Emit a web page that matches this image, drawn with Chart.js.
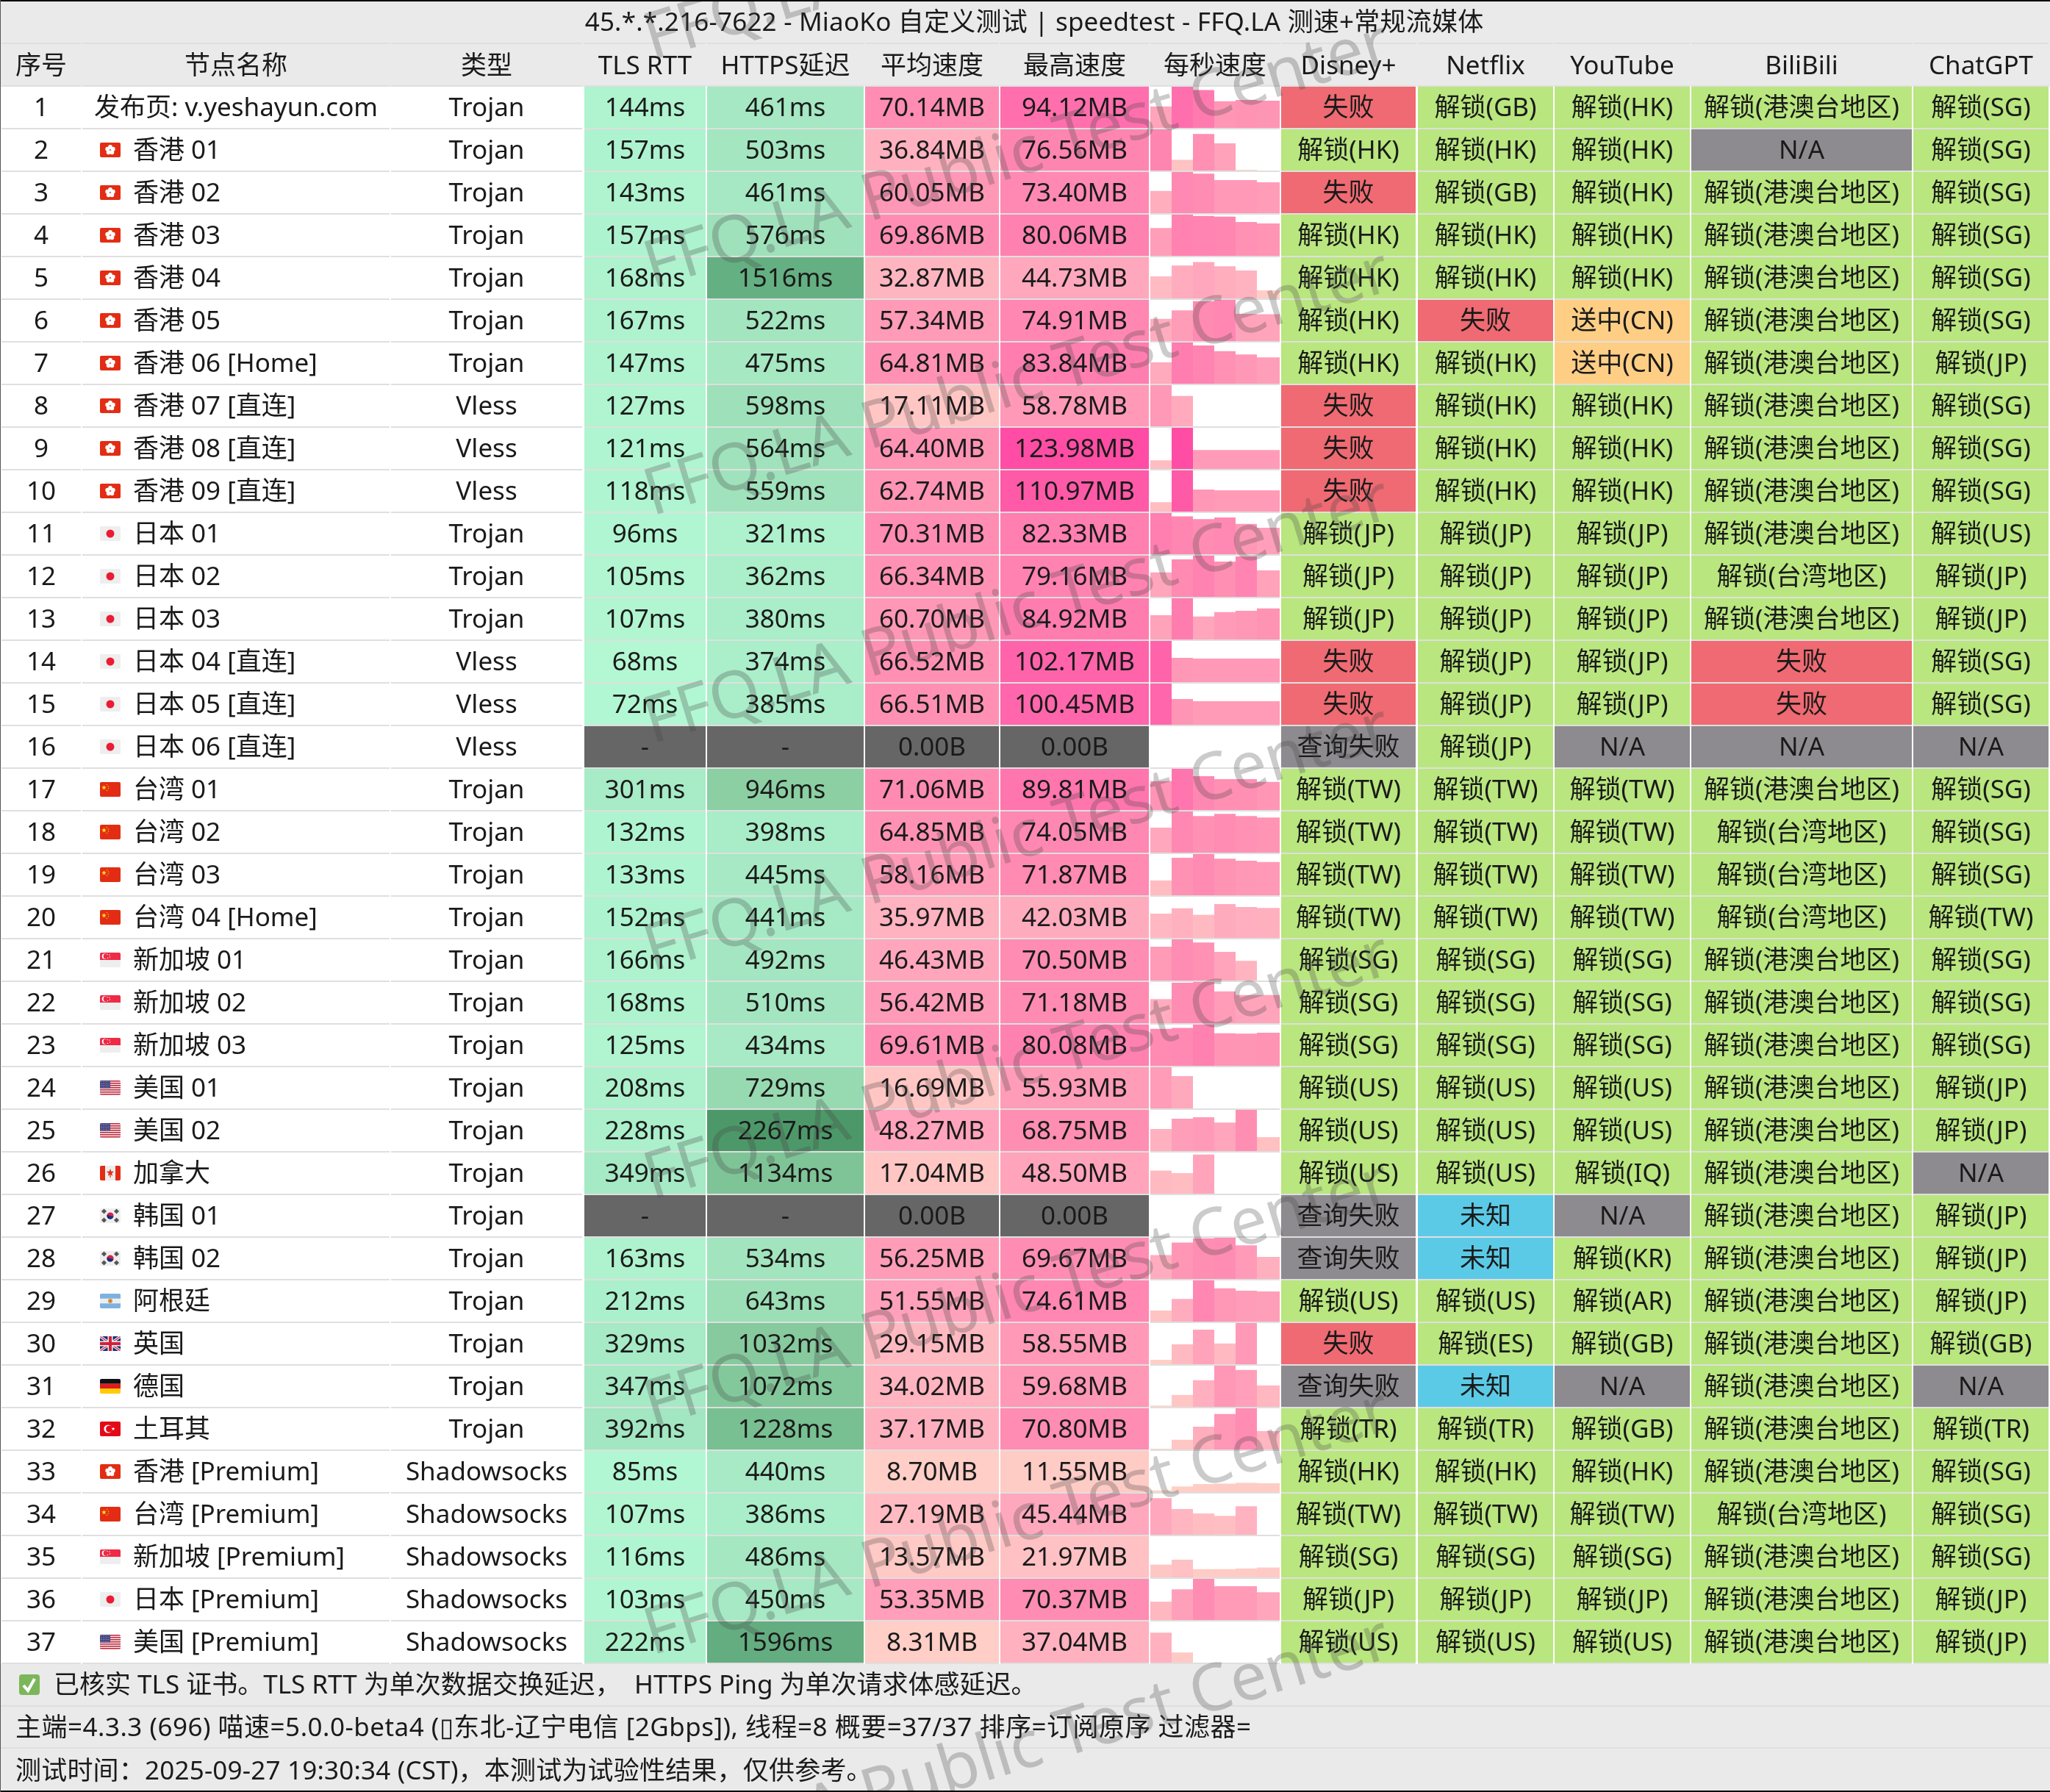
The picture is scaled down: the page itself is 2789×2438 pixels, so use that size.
<!DOCTYPE html>
<html>
<head>
<meta charset="utf-8">
<style>
html, body { margin: 0; padding: 0; background: #fff; }
canvas { display: block; }
</style>
<script src="https://cdn.jsdelivr.net/npm/chart.js@4"></script>
</head>
<body>
<canvas id="mychart" width="2789" height="2438"></canvas>
<script>
const title = '45.*.*.216-7622 - MiaoKo 自定义测试 | speedtest - FFQ.LA 测速+常规流媒体';
const headers = ['序号', '节点名称', '类型', 'TLS RTT', 'HTTPS延迟', '平均速度', '最高速度', '每秒速度', 'Disney+', 'Netflix', 'YouTube', 'BiliBili', 'ChatGPT'];
const footer = [
  '已核实 TLS 证书。TLS RTT 为单次数据交换延迟，  HTTPS Ping 为单次请求体感延迟。',
  '主端=4.3.3 (696) 喵速=5.0.0-beta4 (▯东北-辽宁电信 [2Gbps]), 线程=8 概要=37/37 排序=订阅原序 过滤器=',
  '测试时间：2025-09-27 19:30:34 (CST)，本测试为试验性结果，仅供参考。'
];
const watermark = 'FFQ.LA Public Test Center';

const names = ['发布页: v.yeshayun.com', '香港 01', '香港 02', '香港 03', '香港 04', '香港 05', '香港 06 [Home]', '香港 07 [直连]', '香港 08 [直连]', '香港 09 [直连]',
  '日本 01', '日本 02', '日本 03', '日本 04 [直连]', '日本 05 [直连]', '日本 06 [直连]', '台湾 01', '台湾 02', '台湾 03', '台湾 04 [Home]',
  '新加坡 01', '新加坡 02', '新加坡 03', '美国 01', '美国 02', '加拿大', '韩国 01', '韩国 02', '阿根廷', '英国', '德国', '土耳其',
  '香港 [Premium]', '台湾 [Premium]', '新加坡 [Premium]', '日本 [Premium]', '美国 [Premium]'];
const flags = ['', 'hk', 'hk', 'hk', 'hk', 'hk', 'hk', 'hk', 'hk', 'hk', 'jp', 'jp', 'jp', 'jp', 'jp', 'jp', 'cn', 'cn', 'cn', 'cn',
  'sg', 'sg', 'sg', 'us', 'us', 'ca', 'kr', 'kr', 'ar', 'gb', 'de', 'tr', 'hk', 'cn', 'sg', 'jp', 'us'];
const types = ['Trojan', 'Trojan', 'Trojan', 'Trojan', 'Trojan', 'Trojan', 'Trojan', 'Vless', 'Vless', 'Vless',
  'Trojan', 'Trojan', 'Trojan', 'Vless', 'Vless', 'Vless', 'Trojan', 'Trojan', 'Trojan', 'Trojan',
  'Trojan', 'Trojan', 'Trojan', 'Trojan', 'Trojan', 'Trojan', 'Trojan', 'Trojan', 'Trojan', 'Trojan', 'Trojan', 'Trojan',
  'Shadowsocks', 'Shadowsocks', 'Shadowsocks', 'Shadowsocks', 'Shadowsocks'];

// ms, null = no result
const tlsRtt = [144, 157, 143, 157, 168, 167, 147, 127, 121, 118, 96, 105, 107, 68, 72, null, 301, 132, 133, 152, 166, 168, 125, 208, 228, 349, null, 163, 212, 329, 347, 392, 85, 107, 116, 103, 222];
const httpsPing = [461, 503, 461, 576, 1516, 522, 475, 598, 564, 559, 321, 362, 380, 374, 385, null, 946, 398, 445, 441, 492, 510, 434, 729, 2267, 1134, null, 534, 643, 1032, 1072, 1228, 440, 386, 486, 450, 1596];
// MB
const avgSpeed = [70.14, 36.84, 60.05, 69.86, 32.87, 57.34, 64.81, 17.11, 64.40, 62.74, 70.31, 66.34, 60.70, 66.52, 66.51, 0, 71.06, 64.85, 58.16, 35.97, 46.43, 56.42, 69.61, 16.69, 48.27, 17.04, 0, 56.25, 51.55, 29.15, 34.02, 37.17, 8.70, 27.19, 13.57, 53.35, 8.31];
const maxSpeed = [94.12, 76.56, 73.40, 80.06, 44.73, 74.91, 83.84, 58.78, 123.98, 110.97, 82.33, 79.16, 84.92, 102.17, 100.45, 0, 89.81, 74.05, 71.87, 42.03, 70.50, 71.18, 80.08, 55.93, 68.75, 48.50, 0, 69.67, 74.61, 58.55, 59.68, 70.80, 11.55, 45.44, 21.97, 70.37, 37.04];
// MB per second, six samples per node
const perSecond = [
  [49, 94.1, 86.5, 61, 64, 62], [76.6, 20, 68, 50.7, 1.5, 0], [39.6, 73.4, 70.6, 59, 59, 55], [54, 80, 77.5, 76, 65.7, 63],
  [27.3, 40.7, 45, 39.8, 34.5, 10], [40.4, 56, 72.7, 74.9, 49.4, 48.7], [43.6, 83.8, 78, 66.2, 59.5, 53.7], [58.8, 43.3, 0, 0, 0, 0],
  [26, 124, 57, 57, 57, 57], [25.4, 111, 59.4, 57.3, 57.3, 57.3], [82.3, 75.6, 70.3, 73.4, 60.8, 53], [47, 72, 79.2, 68, 77.6, 50.9],
  [50, 84.9, 47.4, 56.6, 59.3, 64.2], [102.2, 60.3, 58.3, 58.3, 58.3, 58.3], [100.5, 62.7, 57.6, 57.6, 57.6, 57.6], [0, 0, 0, 0, 0, 0],
  [63, 89.8, 73.8, 67.5, 67.5, 61.2], [44.8, 74, 65.9, 69.8, 65.9, 63.2], [25.9, 65.4, 71.9, 64, 60.4, 58.2], [30.1, 36.7, 28.6, 41.8, 38.2, 37.2],
  [57.9, 70.5, 65, 49, 33.7, 0], [41.7, 70, 71.2, 54.9, 48.5, 48.5], [72, 73.5, 80.1, 63.3, 62.7, 64.3], [55.9, 44, 0, 0, 0, 0],
  [36.8, 53.9, 56.5, 47.7, 68.8, 23.2], [28.6, 25.5, 48.5, 0, 0, 0], [0, 0, 0, 0, 0, 0], [40.4, 61.6, 68.7, 69.7, 57, 37.3],
  [20, 41, 74.6, 60.3, 56, 54.5], [6.3, 28.3, 49.2, 29.5, 58.6, 0], [1.9, 17.2, 38.6, 59.7, 53.6, 31], [1.4, 16.7, 39.2, 60.9, 70.8, 31.6],
  [2.2, 7, 10, 10.5, 11.5, 11], [45.4, 31.8, 26.3, 23.4, 35.4, 0], [15.8, 21.9, 10.2, 10.2, 11, 12.2], [31.3, 52.4, 70.4, 57.8, 57.8, 47.5], [37, 12.6, 0, 0, 0, 0]
];

const disney = ['失败', 'HK', '失败', 'HK', 'HK', 'HK', 'HK', '失败', '失败', '失败', 'JP', 'JP', 'JP', '失败', '失败', '查询失败', 'TW', 'TW', 'TW', 'TW',
  'SG', 'SG', 'SG', 'US', 'US', 'US', '查询失败', '查询失败', 'US', '失败', '查询失败', 'TR', 'HK', 'TW', 'SG', 'JP', 'US'];
const netflix = ['GB', 'HK', 'GB', 'HK', 'HK', '失败', 'HK', 'HK', 'HK', 'HK', 'JP', 'JP', 'JP', 'JP', 'JP', 'JP', 'TW', 'TW', 'TW', 'TW',
  'SG', 'SG', 'SG', 'US', 'US', 'US', '未知', '未知', 'US', 'ES', '未知', 'TR', 'HK', 'TW', 'SG', 'JP', 'US'];
const youtube = ['HK', 'HK', 'HK', 'HK', 'HK', '送中(CN)', '送中(CN)', 'HK', 'HK', 'HK', 'JP', 'JP', 'JP', 'JP', 'JP', 'N/A', 'TW', 'TW', 'TW', 'TW',
  'SG', 'SG', 'SG', 'US', 'US', 'IQ', 'N/A', 'KR', 'AR', 'GB', 'N/A', 'GB', 'HK', 'TW', 'SG', 'JP', 'US'];
const bilibili = ['港澳台地区', 'N/A', '港澳台地区', '港澳台地区', '港澳台地区', '港澳台地区', '港澳台地区', '港澳台地区', '港澳台地区', '港澳台地区',
  '港澳台地区', '台湾地区', '港澳台地区', '失败', '失败', 'N/A', '港澳台地区', '台湾地区', '台湾地区', '台湾地区',
  '港澳台地区', '港澳台地区', '港澳台地区', '港澳台地区', '港澳台地区', '港澳台地区', '港澳台地区', '港澳台地区', '港澳台地区', '港澳台地区', '港澳台地区', '港澳台地区',
  '港澳台地区', '台湾地区', '港澳台地区', '港澳台地区', '港澳台地区'];
const chatgpt = ['SG', 'SG', 'SG', 'SG', 'SG', 'SG', 'JP', 'SG', 'SG', 'SG', 'US', 'JP', 'JP', 'SG', 'SG', 'N/A', 'SG', 'SG', 'SG', 'TW',
  'SG', 'SG', 'SG', 'JP', 'JP', 'N/A', 'JP', 'JP', 'JP', 'GB', 'N/A', 'TR', 'SG', 'SG', 'SG', 'JP', 'JP'];

// layout: page pixels
const ROW_TOP = 118, ROW_H = 58, CELL = 56 / 58;
const TEXT_DROP = 2;
const FONT = '"Noto Sans", "Noto Sans CJK SC", sans-serif';
const columns = [[2, 110], [112, 530], [532, 792], [795, 960], [962, 1175], [1177, 1359], [1361, 1563], [1565, 1741], [1743, 1926], [1929, 2113], [2115, 2299], [2301, 2601], [2603, 2787]];
const SPEED_SCALE_MIN = 51;

const rttStops = [[0, [182, 251, 215]], [400, [162, 230, 194]]];
const pingStops = [[300, [174, 242, 207]], [600, [158, 224, 185]], [1000, [136, 204, 159]], [1500, [102, 176, 131]], [2300, [76, 151, 104]]];
const speedStops = [[0, [255, 214, 200]], [20, [255, 195, 195]], [45, [255, 168, 189]], [65, [255, 146, 180]], [85, [255, 124, 175]], [105, [255, 96, 170]], [124, [255, 77, 165]]];
const failColor = '#666666';

function ramp(stops, v) {
  if (v <= stops[0][0]) return 'rgb(' + stops[0][1].join(',') + ')';
  for (let i = 1; i < stops.length; i++) {
    if (v <= stops[i][0]) {
      const t = (v - stops[i - 1][0]) / (stops[i][0] - stops[i - 1][0]);
      const c = stops[i][1].map((n, k) => Math.round(stops[i - 1][1][k] + (n - stops[i - 1][1][k]) * t));
      return 'rgb(' + c.join(',') + ')';
    }
  }
  return 'rgb(' + stops[stops.length - 1][1].join(',') + ')';
}

function statusColor(s) {
  if (s === '失败') return '#EF6A72';
  if (s === 'N/A' || s === '查询失败') return '#8D8B8F';
  if (s === '未知') return '#5BCAE6';
  if (s.startsWith('送中')) return '#FFCE85';
  return '#B9E67E';
}
const unlockLabel = v => /^[A-Z]{2}$/.test(v) ? '解锁(' + v + ')' : v;
const biliLabel = v => v.endsWith('地区') ? '解锁(' + v + ')' : v;
const speedLabel = v => v === 0 ? '0.00B' : v.toFixed(2) + 'MB';
const msLabel = v => v === null ? '-' : v + 'ms';

// one entry per table column: text and fill of each row
const tableCols = [
  { text: names.map((n, i) => String(i + 1)) },
  { text: names, left: true },
  { text: types },
  { text: tlsRtt.map(msLabel), fill: tlsRtt.map(v => v === null ? failColor : ramp(rttStops, v)) },
  { text: httpsPing.map(msLabel), fill: httpsPing.map(v => v === null ? failColor : ramp(pingStops, v)) },
  { text: avgSpeed.map(speedLabel), fill: avgSpeed.map(v => v === 0 ? failColor : ramp(speedStops, v)) },
  { text: maxSpeed.map(speedLabel), fill: maxSpeed.map(v => v === 0 ? failColor : ramp(speedStops, v)) },
  { text: null },
  { text: disney.map(unlockLabel), fill: disney.map(unlockLabel).map(statusColor) },
  { text: netflix.map(unlockLabel), fill: netflix.map(unlockLabel).map(statusColor) },
  { text: youtube.map(unlockLabel), fill: youtube.map(unlockLabel).map(statusColor) },
  { text: bilibili.map(biliLabel), fill: bilibili.map(biliLabel).map(statusColor) },
  { text: chatgpt.map(unlockLabel), fill: chatgpt.map(unlockLabel).map(statusColor) }
];

const datasets = [];
tableCols.forEach((col, c) => {
  if (!col.fill) return;
  const [l, r] = columns[c];
  datasets.push({
    data: col.fill.map((color, i) => ({ x: (l + r) / 2, y: [i, i + CELL], color: color })),
    barThickness: r - l
  });
});
// the per second column: one dataset per second, bar height relative to the row's own maximum
const SEC_LEFT = 1565, SEC_W = 29, SEC_LAST_W = 31;
for (let s = 0; s < 6; s++) {
  const w = s === 5 ? SEC_LAST_W : SEC_W;
  const points = [];
  perSecond.forEach((row, i) => {
    if (!row[s]) return;
    const top = Math.max(maxSpeed[i], SPEED_SCALE_MIN);
    points.push({ x: SEC_LEFT + SEC_W * s + w / 2, y: [i + CELL, i + CELL - CELL * row[s] / top], color: ramp(speedStops, row[s]) });
  });
  datasets.push({ data: points, barThickness: w });
}
datasets.forEach(d => {
  d.stack = 'table';
  d.grouped = false;
  d.backgroundColor = c => c.raw.color;
  d.inflateAmount = 0;
  d.borderWidth = 0;
});

function roundRect(ctx, x, y, w, h, r) {
  ctx.beginPath();
  ctx.roundRect(x, y, w, h, r);
}
function star(ctx, cx, cy, r, color) {
  ctx.fillStyle = color;
  ctx.beginPath();
  for (let i = 0; i < 10; i++) {
    const a = -Math.PI / 2 + i * Math.PI / 5, rr = i % 2 ? r * 0.42 : r;
    ctx.lineTo(cx + rr * Math.cos(a), cy + rr * Math.sin(a));
  }
  ctx.closePath();
  ctx.fill();
}
function dot(ctx, x, y, r, color) {
  ctx.fillStyle = color;
  ctx.beginPath();
  ctx.arc(x, y, r, 0, Math.PI * 2);
  ctx.fill();
}

// flags are 28x20, origin at their top left corner
const flagDraw = {
  hk(ctx) {
    ctx.fillStyle = '#E22D14'; ctx.fillRect(0, 0, 28, 20);
    for (let i = 0; i < 5; i++) dot(ctx, 14 + 4 * Math.cos(i * 1.2566 - 1.57), 10 + 4 * Math.sin(i * 1.2566 - 1.57), 2.9, '#fff');
    dot(ctx, 14, 10, 1, '#E8806E');
  },
  jp(ctx) {
    ctx.fillStyle = '#EEEEEE'; ctx.fillRect(0, 0, 28, 20);
    dot(ctx, 14, 10, 5.5, '#EB1B34');
  },
  cn(ctx) {
    ctx.fillStyle = '#E22D14'; ctx.fillRect(0, 0, 28, 20);
    star(ctx, 5.5, 7.5, 3.6, '#FFD91A');
    [[9.5, 3.5], [11.5, 6], [11.5, 9], [9.5, 11.5]].forEach(p => dot(ctx, p[0], p[1], 0.8, '#F5B21A'));
  },
  sg(ctx) {
    ctx.fillStyle = '#EEEEEE'; ctx.fillRect(0, 0, 28, 20);
    ctx.fillStyle = '#EE2A45'; ctx.fillRect(0, 0, 28, 10);
    dot(ctx, 6.5, 5, 3.8, '#fff');
    dot(ctx, 8, 5, 3.4, '#EE2A45');
    [[10, 2.5], [13, 3], [13.5, 6], [10.5, 7.5]].forEach(p => dot(ctx, p[0], p[1], 0.7, '#fff'));
  },
  us(ctx) {
    ctx.fillStyle = '#EEEEEE'; ctx.fillRect(0, 0, 28, 20);
    ctx.fillStyle = '#C5283D';
    for (let i = 0; i < 7; i++) ctx.fillRect(0, i * 3, 28, 1.55);
    ctx.fillStyle = '#3F3F7F'; ctx.fillRect(0, 0, 14, 10.5);
    for (let a = 0; a < 4; a++) for (let b = 0; b < 5; b++) dot(ctx, 1.7 + b * 2.6, 1.5 + a * 2.5, 0.55, '#DDD');
  },
  ca(ctx) {
    ctx.fillStyle = '#EEEEEE'; ctx.fillRect(0, 0, 28, 20);
    ctx.fillStyle = '#E22D14'; ctx.fillRect(0, 0, 7, 20); ctx.fillRect(21, 0, 7, 20);
    star(ctx, 14, 9.5, 5.5, '#E22D14');
    ctx.fillRect(13.4, 12, 1.2, 4);
  },
  kr(ctx) {
    ctx.fillStyle = '#EEEEEE'; ctx.fillRect(0, 0, 28, 20);
    dot(ctx, 14, 10, 4.6, '#D8204A');
    ctx.fillStyle = '#10307A';
    ctx.beginPath(); ctx.arc(14, 10, 4.6, 0.3, Math.PI + 0.3); ctx.fill();
    ctx.fillStyle = '#555';
    [[5.5, 4], [22.5, 4], [5.5, 16], [22.5, 16]].forEach(p => {
      ctx.save(); ctx.translate(p[0], p[1]); ctx.rotate(Math.PI / 4); ctx.fillRect(-2.5, -2.5, 5, 5); ctx.restore();
    });
  },
  ar(ctx) {
    ctx.fillStyle = '#EEEEEE'; ctx.fillRect(0, 0, 28, 20);
    ctx.fillStyle = '#7DB2E0'; ctx.fillRect(0, 0, 28, 6.7); ctx.fillRect(0, 13.3, 28, 6.7);
    dot(ctx, 14, 10, 3, '#D9963A');
    dot(ctx, 14, 10, 1.2, '#B87A2A');
  },
  gb(ctx) {
    ctx.fillStyle = '#1F2F7C'; ctx.fillRect(0, 0, 28, 20);
    ctx.strokeStyle = '#EEE'; ctx.lineWidth = 3.5;
    ctx.beginPath(); ctx.moveTo(0, 0); ctx.lineTo(28, 20); ctx.moveTo(28, 0); ctx.lineTo(0, 20); ctx.stroke();
    ctx.strokeStyle = '#D2213B'; ctx.lineWidth = 1.2;
    ctx.beginPath(); ctx.moveTo(0, 0); ctx.lineTo(28, 20); ctx.moveTo(28, 0); ctx.lineTo(0, 20); ctx.stroke();
    ctx.fillStyle = '#EEE'; ctx.fillRect(10.5, 0, 7, 20); ctx.fillRect(0, 6.5, 28, 7);
    ctx.fillStyle = '#D2213B'; ctx.fillRect(12, 0, 4, 20); ctx.fillRect(0, 8, 28, 4);
  },
  de(ctx) {
    ctx.fillStyle = '#111'; ctx.fillRect(0, 0, 28, 6.7);
    ctx.fillStyle = '#DD1C1C'; ctx.fillRect(0, 6.7, 28, 6.7);
    ctx.fillStyle = '#FFCC00'; ctx.fillRect(0, 13.3, 28, 6.7);
  },
  tr(ctx) {
    ctx.fillStyle = '#E30A17'; ctx.fillRect(0, 0, 28, 20);
    dot(ctx, 11, 10, 5.6, '#fff');
    dot(ctx, 12.6, 10, 4.5, '#E30A17');
    star(ctx, 18, 10, 2.6, '#fff');
  }
};

// background bands and row rules, below the bars
const tableBack = {
  id: 'tableBack',
  beforeDatasetsDraw(chart) {
    const { ctx } = chart;
    const yPx = chart.scales.y;
    ctx.save();
    ctx.fillStyle = '#FFFFFF';
    ctx.fillRect(0, 0, 2789, 2438);
    ctx.fillStyle = '#EAEAEA';
    ctx.fillRect(0, 0, 2789, yPx.getPixelForValue(0));
    ctx.fillRect(0, yPx.getPixelForValue(names.length), 2789, 2438);
    ctx.fillStyle = '#DFDFDF';
    // rules, with small gaps at the column separators
    columns.forEach(([l, r]) => {
      for (let i = -2; i < names.length; i++) {
        const y0 = yPx.getPixelForValue(i + CELL);
        ctx.fillRect(l, y0, r - l, 2);
      }
    });
    [2321, 2378].forEach(y => ctx.fillRect(0, y - 1, 2789, 2));
    ctx.restore();
  }
};

// all the table text, the flags, the footer and the watermark on top of the bars
const tableText = {
  id: 'tableText',
  afterDatasetsDraw(chart) {
    const { ctx } = chart;
    const xPx = chart.scales.x, yPx = chart.scales.y;
    const rowMid = i => yPx.getPixelForValue(i + CELL / 2);
    ctx.save();
    ctx.font = '35px ' + FONT;
    ctx.fillStyle = '#1A1A1A';
    ctx.textBaseline = 'middle';
    ctx.textAlign = 'center';
    ctx.letterSpacing = '0.2px';
    ctx.fillText(title, 1407, 32);
    ctx.letterSpacing = '0px';
    headers.forEach((h, c) => {
      const [l, r] = columns[c];
      ctx.fillText(h, xPx.getPixelForValue((l + r) / 2), rowMid(-1) + TEXT_DROP + 1);
    });
    tableCols.forEach((col, c) => {
      if (!col.text) return;
      const [l, r] = columns[c];
      col.text.forEach((t, i) => {
        if (col.left) {
          ctx.textAlign = 'left';
          ctx.fillText(t, flags[i] ? 181 : 128, rowMid(i) + TEXT_DROP);
          ctx.textAlign = 'center';
        } else {
          ctx.fillText(t, xPx.getPixelForValue((l + r) / 2), rowMid(i) + TEXT_DROP);
        }
      });
    });
    flags.forEach((f, i) => {
      if (!f) return;
      ctx.save();
      ctx.translate(136, Math.round(rowMid(i) - 10));
      roundRect(ctx, 0, 0, 28, 20, 2);
      ctx.clip();
      flagDraw[f](ctx);
      ctx.restore();
    });

    // footer
    ctx.fillStyle = '#7CB65A';
    roundRect(ctx, 26, 2278, 28, 28, 4);
    ctx.fill();
    ctx.strokeStyle = '#FFFFFF';
    ctx.lineWidth = 4;
    ctx.beginPath();
    ctx.moveTo(32, 2293); ctx.lineTo(38, 2300); ctx.lineTo(47, 2284);
    ctx.stroke();
    ctx.fillStyle = '#1A1A1A';
    ctx.textAlign = 'left';
    ctx.fillText(footer[0], 73, 2294);
    ctx.letterSpacing = '0.5px';
    ctx.fillText(footer[1], 21, 2352);
    ctx.letterSpacing = '0.2px';
    ctx.fillText(footer[2], 21, 2411);
    ctx.letterSpacing = '0px';

    // watermark
    ctx.font = '89px ' + FONT;
    ctx.fillStyle = 'rgba(70, 70, 70, 0.28)';
    ctx.textBaseline = 'alphabetic';
    for (let y = 82; y < 2600; y += 310) {
      ctx.save();
      ctx.translate(887, y);
      ctx.rotate(-17 * Math.PI / 180);
      ctx.fillText(watermark, 0, 0);
      ctx.restore();
    }

    // outer edge of the screenshot
    ctx.fillStyle = '#000000';
    ctx.fillRect(0, 0, 2789, 2);
    ctx.fillRect(0, 2436, 2789, 2);
    ctx.fillStyle = '#555555';
    ctx.fillRect(0, 0, 1, 2438);
    ctx.restore();
  }
};

const ctx = document.getElementById('mychart').getContext('2d');
const myChart = new Chart(ctx, {
  type: 'bar',
  data: { datasets: datasets },
  plugins: [tableBack, tableText],
  options: {
    responsive: false,
    devicePixelRatio: 1,
    animation: false,
    layout: { padding: 0 },
    plugins: { legend: { display: false }, title: { display: false }, tooltip: { enabled: false } },
    scales: {
      x: { type: 'linear', display: false, min: 0, max: 2789, offset: false },
      y: { type: 'linear', display: false, reverse: true, stacked: false, min: -ROW_TOP / ROW_H, max: (2438 - ROW_TOP) / ROW_H }
    }
  }
});
</script>
</body>
</html>
